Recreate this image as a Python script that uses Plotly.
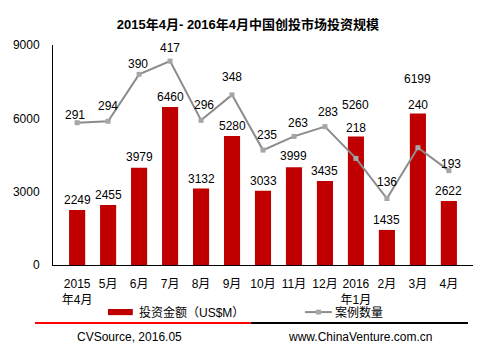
import plotly.graph_objects as go

months = ["2015<br>年4月", "5月", "6月", "7月", "8月", "9月", "10月", "11月", "12月",
          "2016<br>年1月", "2月", "3月", "4月"]
amount = [2249, 2455, 3979, 6460, 3132, 5280, 3033, 3999, 3435, 5260, 1435, 6199, 2622]
cases = [291, 294, 390, 417, 296, 348, 235, 263, 283, 218, 136, 240, 193]
series_names = ["投资金额（US$M）", "案例数量"]

# label offsets (style only)
bar_lab_dy = [10, 10, 11, 10, 9, 10, 10, 11, 10, 31, 10, 34, 10]
line_lab_dy = [8, 15, 10, 13, 15, 18, 15, 13, 15, 30, 17, 43, 7]
line_lab_dx = [-2, 0, -1, 0, 3, 0, 4, 4, 3, 0, 0, 0, 2]

FONT = "Arial, 'Liberation Sans', 'Noto Sans CJK SC', sans-serif"
BAR_C = "#C00000"
LINE_C = "#8C8C8C"
MARK_C = "#A6A6A6"

fig = go.Figure()
fig.add_trace(go.Bar(x=months, y=amount, name=series_names[0],
                     marker=dict(color=BAR_C, line=dict(width=0)), width=0.52,
                     yaxis="y", showlegend=False))
fig.add_trace(go.Scatter(x=months, y=cases, name=series_names[1], mode="lines+markers",
                         line=dict(color=LINE_C, width=2),
                         marker=dict(symbol="square", size=5, color=MARK_C),
                         yaxis="y2", showlegend=False))

ann = []
for i, m in enumerate(months):
    ann.append(dict(x=m, y=amount[i], xref="x", yref="y", text=str(amount[i]),
                    showarrow=False, yanchor="middle", yshift=bar_lab_dy[i],
                    font=dict(size=12, color="#000", family=FONT)))
    ann.append(dict(x=m, y=cases[i], xref="x", yref="y2", text=str(cases[i]),
                    showarrow=False, yanchor="middle", yshift=line_lab_dy[i],
                    xshift=line_lab_dx[i],
                    font=dict(size=12, color="#000", family=FONT)))

# custom legend
ann.append(dict(x=0.200, y=-0.214, xref="paper", yref="paper", text=series_names[0],
                showarrow=False, xanchor="left", yanchor="middle",
                font=dict(size=12, color="#000", family=FONT)))
ann.append(dict(x=0.667, y=-0.214, xref="paper", yref="paper", text=series_names[1],
                showarrow=False, xanchor="left", yanchor="middle",
                font=dict(size=12, color="#000", family=FONT)))

ann.append(dict(x=0.182, y=-0.327, xref="paper", yref="paper", text="CVSource, 2016.05",
                showarrow=False, xanchor="center", yanchor="middle",
                font=dict(size=12, color="#000", family=FONT)))
ann.append(dict(x=0.732, y=-0.327, xref="paper", yref="paper", text="www.ChinaVenture.com.cn",
                showarrow=False, xanchor="center", yanchor="middle",
                font=dict(size=12, color="#000", family=FONT)))

shapes = [
    # legend symbols
    dict(type="rect", xref="paper", yref="paper", x0=0.131, x1=0.190, y0=-0.200, y1=-0.228,
         fillcolor=BAR_C, line=dict(width=0)),
    dict(type="line", xref="paper", yref="paper", x0=0.600, x1=0.664, y0=-0.214, y1=-0.214,
         line=dict(color=LINE_C, width=2)),
    dict(type="rect", xref="paper", yref="paper", x0=0.626, x1=0.638, y0=-0.203, y1=-0.225,
         fillcolor=MARK_C, line=dict(width=0)),
    # footer rules
    dict(type="line", xref="paper", yref="paper", x0=-0.043, x1=0.471, y0=-0.264, y1=-0.264,
         line=dict(color="#FF0000", width=2)),
    dict(type="line", xref="paper", yref="paper", x0=0.471, x1=0.988, y0=-0.264, y1=-0.264,
         line=dict(color="#000000", width=2)),
]

fig.update_layout(
    width=489, height=350,
    margin=dict(l=53, r=16, t=45, b=85),
    paper_bgcolor="white", plot_bgcolor="white",
    font=dict(family=FONT, size=12, color="#000"),
    title=dict(text="<b>2015年4月- 2016年4月中国创投市场投资规模</b>",
               x=0.507, xref="container", xanchor="center",
               y=1 - 24 / 350, yref="container", yanchor="middle",
               font=dict(size=13, family=FONT, color="#000")),
    xaxis=dict(showline=True, linecolor="#000", linewidth=1, ticks="",
               showgrid=False, tickfont=dict(size=12), tickangle=0,
               ticklabelstandoff=8),
    yaxis=dict(range=[0, 9000], tickvals=[0, 3000, 6000, 9000], showline=True,
               linecolor="#000", linewidth=1, ticks="", showgrid=False,
               zeroline=False, ticklabelstandoff=10, tickfont=dict(size=12)),
    yaxis2=dict(range=[0, 450], overlaying="y", side="right", visible=False,
                showgrid=False, zeroline=False),
    showlegend=False,
    bargap=0.48,
    annotations=ann,
    shapes=shapes,
)

fig.write_html("out.html")
